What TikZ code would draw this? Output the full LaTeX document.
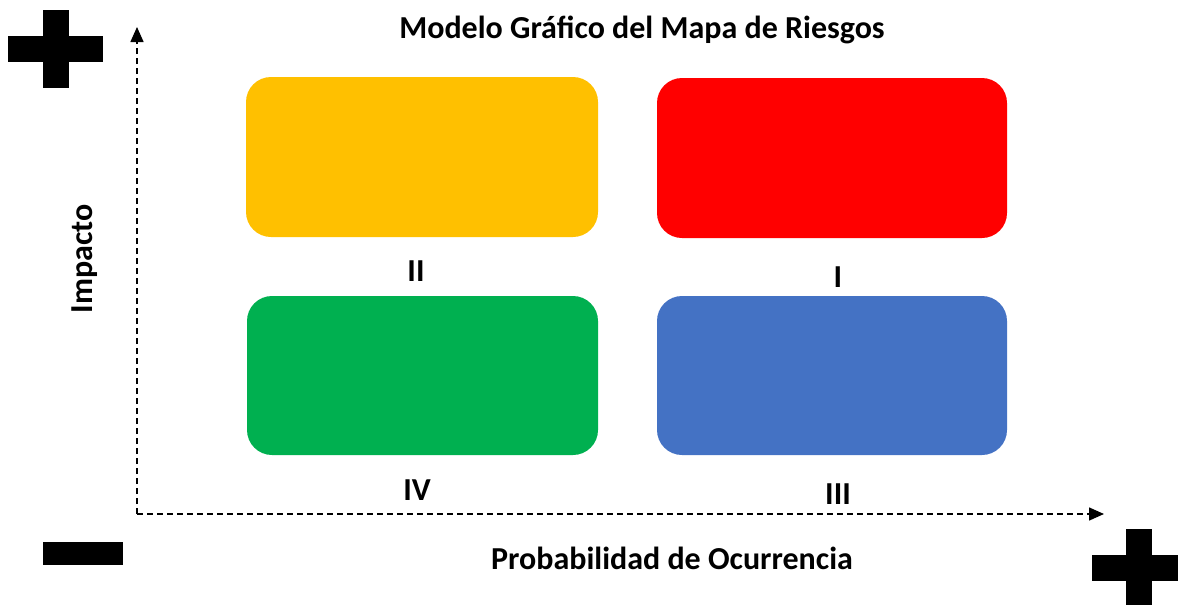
\documentclass[tikz,border=0pt]{standalone}
\usepackage{fontspec}
\setmainfont{Carlito}
\usetikzlibrary{arrows.meta}
\definecolor{cYellow}{HTML}{FFC000}
\definecolor{cRed}{HTML}{FF0000}
\definecolor{cGreen}{HTML}{00B050}
\definecolor{cBlue}{HTML}{4472C4}
\tikzset{
  riskbox/.style={draw=none, rounded corners=25pt},
  lbl/.style={font=\bfseries\fontsize{32}{38}\selectfont, inner sep=0pt},
  axis/.style={dashed, dash pattern=on 6pt off 4pt, line width=1.5pt, -{Triangle[length=15pt,width=13pt]}},
  sign/.style={fill=black, draw=none}
}
\begin{document}
\begin{tikzpicture}[x=1pt,y=-1pt]
\useasboundingbox (0,0) rectangle (1178,605);
% boxes
\fill[riskbox, cYellow] (246,77) rectangle (598,237);
\fill[riskbox, cRed] (657,78) rectangle (1007,238);
\fill[riskbox, cGreen] (247,296) rectangle (598,455);
\fill[riskbox, cBlue] (657,296) rectangle (1007,455);
% labels
\node[lbl] (l2) at (416,271) {II};
\node[lbl] (l1) at (838,277) {I};
\node[lbl] (l4) at (417,490) {IV};
\node[lbl] (l3) at (838,494) {III};
\node[lbl] (title) at (642,30) {Modelo Gráfico del Mapa de Riesgos};
\node[lbl] (xlab) at (672,558) {Probabilidad de Ocurrencia};
\node[lbl, rotate=90] (ylab) at (85,259) {Impacto};
% axes
\coordinate (o) at (137,514);
\coordinate (ytip) at (137,27);
\coordinate (xtip) at (1104,514);
\draw[axis] (o) -- (ytip);
\draw[axis] (o) -- (xtip);
% signs
\fill[sign] (8,36) rectangle (103,62);
\fill[sign] (43,10) rectangle (69,88);
\fill[sign] (1092,555) rectangle (1178,581);
\fill[sign] (1126,529) rectangle (1152,605);
\fill[sign] (43,542) rectangle (123,565);
\end{tikzpicture}
\end{document}
